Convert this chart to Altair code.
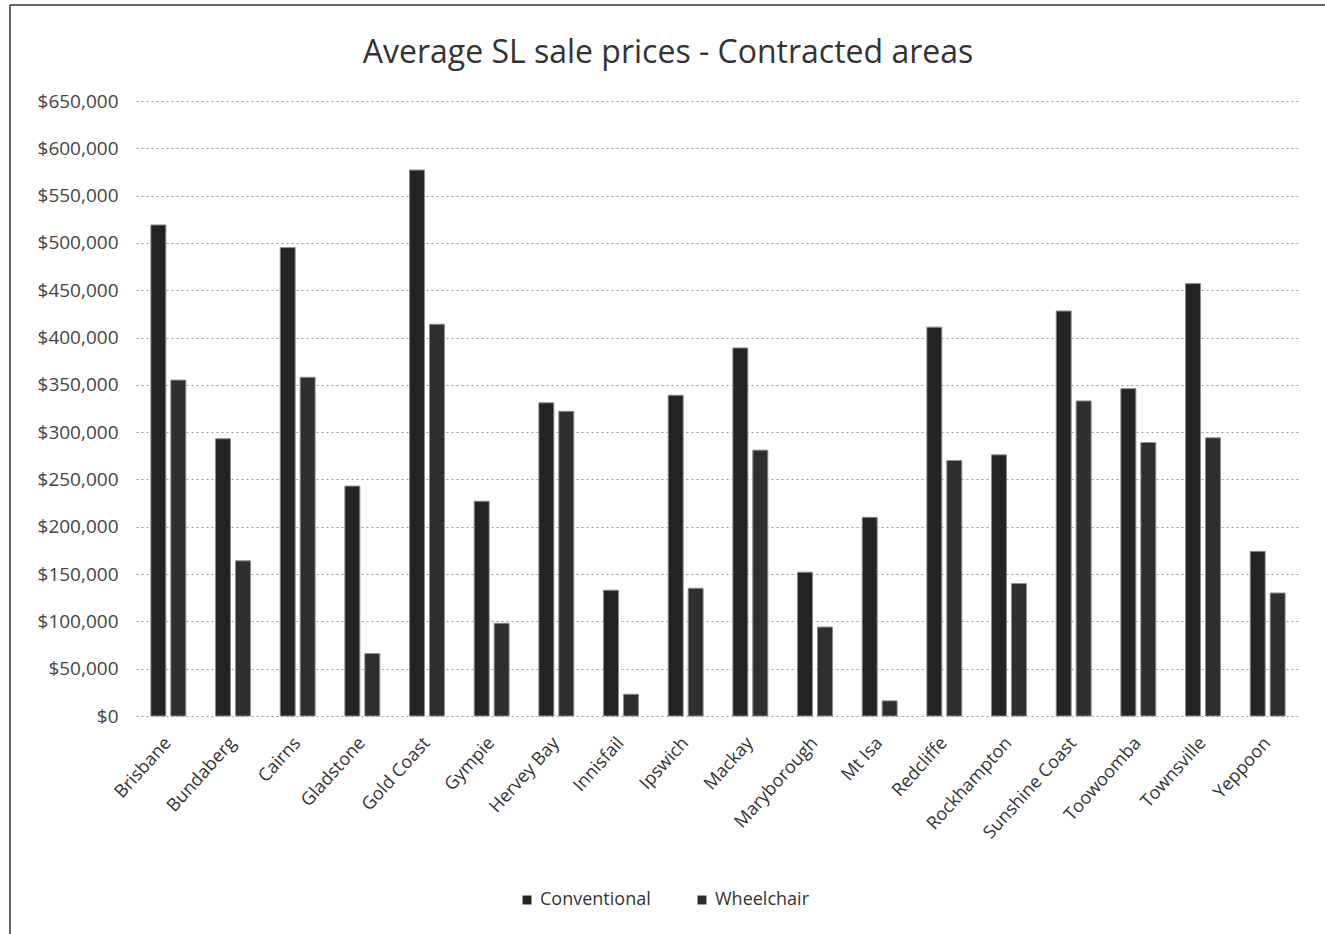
import altair as alt
import pandas as pd

areas = ["Brisbane", "Bundaberg", "Cairns", "Gladstone", "Gold Coast", "Gympie",
         "Hervey Bay", "Innisfail", "Ipswich", "Mackay", "Maryborough", "Mt Isa",
         "Redcliffe", "Rockhampton", "Sunshine Coast", "Toowoomba", "Townsville", "Yeppoon"]
conventional = [519000, 293000, 495000, 243000, 577000, 227000, 331000, 133000, 339000,
                389000, 152000, 210000, 411000, 276000, 428000, 346000, 457000, 174000]
wheelchair = [355000, 164000, 358000, 66000, 414000, 98000, 322000, 23000, 135000,
              281000, 94000, 16000, 270000, 140000, 333000, 289000, 294000, 130000]
series = ["Conventional", "Wheelchair"]
y_ticks = list(range(0, 650001, 50000))
chart_title = "Average SL sale prices - Contracted areas"

rows = []
for a, c, w in zip(areas, conventional, wheelchair):
    rows.append({"area": a, "type": "Conventional", "price": c})
    rows.append({"area": a, "type": "Wheelchair", "price": w})
df = pd.DataFrame(rows)

FONT = "Open Sans"

bars = alt.Chart(df).mark_bar(stroke="#8c8c8c", strokeWidth=1).encode(
    x=alt.X("area:N", sort=areas, title=None,
            scale=alt.Scale(paddingInner=0.46, paddingOuter=0.23),
            axis=alt.Axis(labelAngle=-48, labelFontSize=18, labelColor="#333333",
                          labelFont=FONT, domain=False, ticks=False, labelPadding=24,
                          grid=False)),
    xOffset=alt.XOffset("type:N", sort=series, scale=alt.Scale(paddingInner=0.25)),
    y=alt.Y("price:Q", title=None, scale=alt.Scale(domain=[0, 650000]),
            axis=alt.Axis(values=y_ticks, format="$,.0f", labelFontSize=19,
                          labelFont=FONT, labelColor="#444444", domain=False,
                          ticks=False, labelPadding=18, grid=True,
                          gridColor="#9a9a9a", gridDash=[2, 3], gridWidth=1)),
    color=alt.Color("type:N", sort=series,
                    scale=alt.Scale(domain=series, range=["#232323", "#2e2e2e"]),
                    legend=alt.Legend(title=None, orient="none", direction="horizontal",
                                      legendX=382, legendY=790, symbolType="square",
                                      symbolSize=80, labelFontSize=18, labelFont=FONT,
                                      labelColor="#333333", columnPadding=42,
                                      symbolStrokeWidth=0)),
)

frame = pd.DataFrame({"label": [chart_title]})
title_mark = alt.Chart(frame).mark_text(
    fontSize=32, font=FONT, color="#333333", align="center", baseline="alphabetic"
).encode(text="label:N", x=alt.value(532), y=alt.value(-38))
top_rule = alt.Chart(frame).mark_rule(color="#333333", strokeWidth=1.5).encode(
    x=alt.value(-126), x2=alt.value(1189), y=alt.value(-96))
left_rule = alt.Chart(frame).mark_rule(color="#333333", strokeWidth=1.5).encode(
    x=alt.value(-126), y=alt.value(-96), y2=alt.value(833))

chart = alt.layer(bars, title_mark, top_rule, left_rule).properties(
    width=1164, height=615,
    background="white",
    autosize=alt.AutoSizeParams(type="none"),
    padding={"left": 136, "top": 101, "right": 25, "bottom": 218},
).configure_view(strokeWidth=0, strokeOpacity=0)

chart.save("out.html", embed_options={"renderer": "svg", "actions": False})
